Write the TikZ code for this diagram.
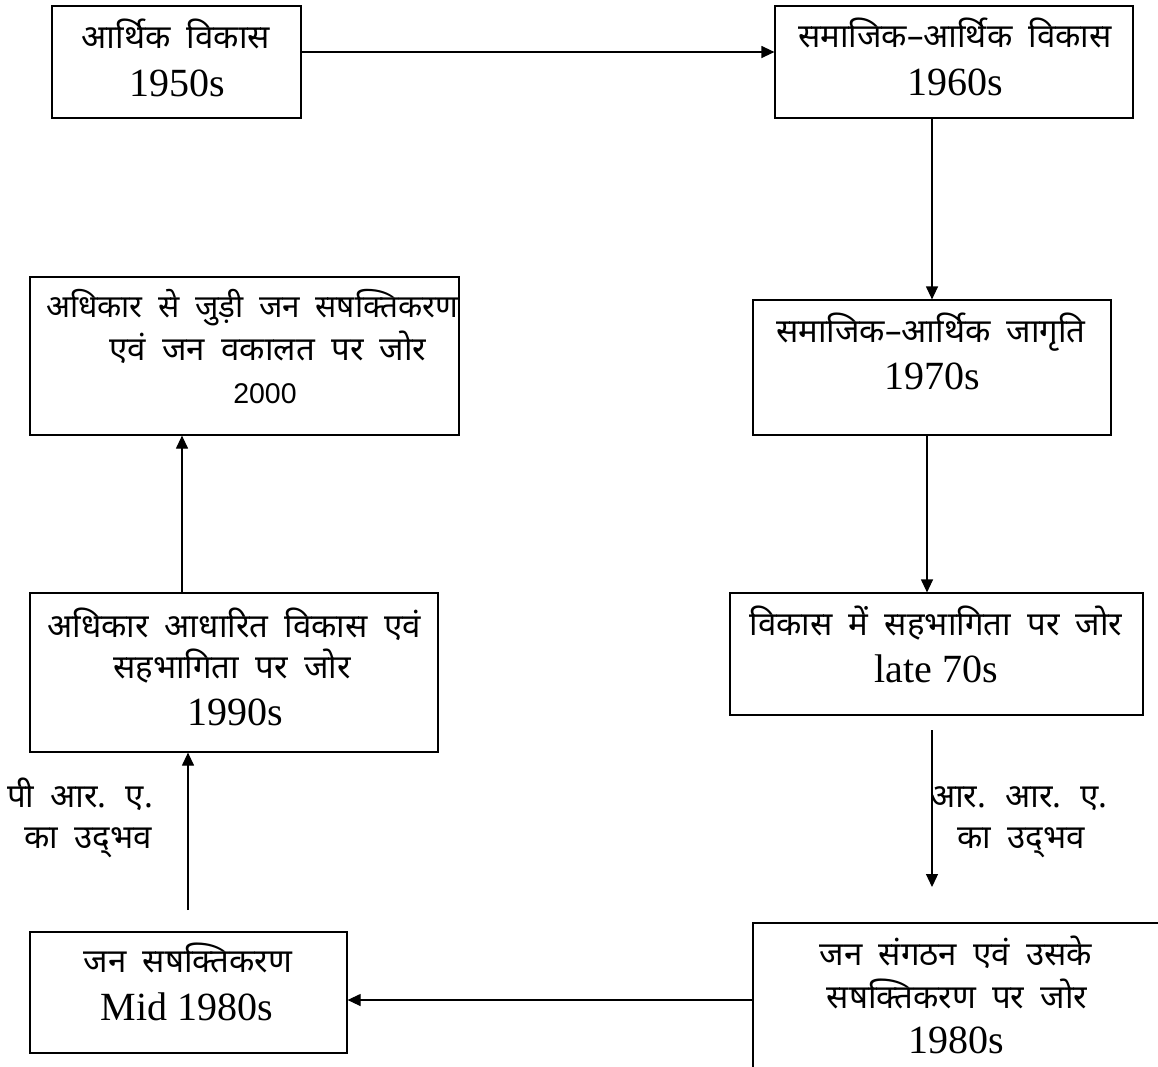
\documentclass[tikz,border=0pt]{standalone}
\usepackage{fontspec}
\usetikzlibrary{arrows.meta}
\newfontfamily\devfont[Script=Devanagari,WordSpace=1.9]{Noto Sans}
\newfontfamily\tnrfont{Liberation Serif}
\newfontfamily\arlfont{Liberation Sans}
\tikzset{
  box/.style={draw, line width=1.2pt, rectangle, inner sep=0pt},
  conn/.style={line width=1.2pt, -{Triangle[length=13pt,width=12pt]}},
  dv/.style={font=\devfont\fontsize{33}{38}\selectfont, anchor=base, inner sep=0pt},
  dvs/.style={font=\devfont\fontsize{31.5}{38}\selectfont, anchor=base, inner sep=0pt},
  tn/.style={font=\tnrfont\fontsize{40}{46}\selectfont, anchor=base, inner sep=0pt},
  ar/.style={font=\arlfont\fontsize{28.5}{32}\selectfont, anchor=base, inner sep=0pt},
}
\begin{document}
\begin{tikzpicture}[x=1pt,y=-1pt]
\clip (0,0) rectangle (1158,1066);
\fill[white] (0,0) rectangle (1158,1066);
% boxes
\node[box, minimum width=249pt, minimum height=112pt] (b1) at (176.5,62) {};
\node[box, minimum width=358pt, minimum height=112pt] (b2) at (954,62) {};
\node[box, minimum width=358pt, minimum height=135pt] (b3) at (932,367.5) {};
\node[box, minimum width=413pt, minimum height=122pt] (b4) at (936.5,654) {};
\node[box, minimum width=408pt, minimum height=154pt] (b5) at (957,1000) {};
\node[box, minimum width=317pt, minimum height=121pt] (b6) at (188.5,992.5) {};
\node[box, minimum width=408pt, minimum height=159pt] (b7) at (234,672.5) {};
\node[box, minimum width=429pt, minimum height=158pt] (b8) at (244.5,356) {};
% texts
\node[dv] (t1a) at (176,48) {आर्थिक विकास};
\node[tn] (t1b) at (177,96) {1950s};
\node[dv] (t2a) at (955,47) {समाजिक–आर्थिक विकास};
\node[tn] (t2b) at (955,95) {1960s};
\node[dv] (t3a) at (931,342) {समाजिक–आर्थिक जागृति};
\node[tn] (t3b) at (932,389) {1970s};
\node[dv] (t4a) at (936,635) {विकास में सहभागिता पर जोर};
\node[tn] (t4b) at (936,682) {late 70s};
\node[dv] (t5a) at (956,965) {जन संगठन एवं उसके};
\node[dv] (t5b) at (957,1008) {सषक्तिकरण पर जोर};
\node[tn] (t5c) at (956,1053) {1980s};
\node[dv] (t6a) at (188,972) {जन सषक्तिकरण};
\node[tn] (t6b) at (187,1020) {Mid 1980s};
\node[dv] (t7a) at (234,637) {अधिकार आधारित विकास एवं};
\node[dv] (t7b) at (232,678) {सहभागिता पर जोर};
\node[tn] (t7c) at (235,725) {1990s};
\node[dvs] (t8a) at (252,317) {अधिकार से जुड़ी जन सषक्तिकरण};
\node[dv] (t8b) at (268,360) {एवं जन वकालत पर जोर};
\node[ar] (t8c) at (265,403) {2000};
% edge labels
\node[dv] (lr1) at (1019,807) {आर. आर. ए.};
\node[dv] (lr2) at (1021,848) {का उद्^^^^200cभव};
\node[dv] (ll1) at (80,807) {पी आर. ए.};
\node[dv] (ll2) at (88,848) {का उद्^^^^200cभव};
% connectors
\coordinate (c1s) at (932,730);
\coordinate (c1e) at (932,887);
\coordinate (c2s) at (188,910);
\draw[conn] ([yshift=10pt]b1.east) -- ([yshift=10pt]b2.west);
\draw[conn] (b2.south -| b3.north) -- (b3.north);
\draw[conn] ([xshift=-5pt]b3.south) -- ([xshift=-5pt]b3.south |- b4.north);
\draw[conn] (c1s) -- (c1e);
\draw[conn] (b5.west) -- (b5.west -| b6.east);
\draw[conn] (c2s) -- (c2s |- b7.south);
\draw[conn] ([xshift=-52pt]b7.north) -- ([xshift=-52pt]b7.north |- b8.south);
\end{tikzpicture}
\end{document}
